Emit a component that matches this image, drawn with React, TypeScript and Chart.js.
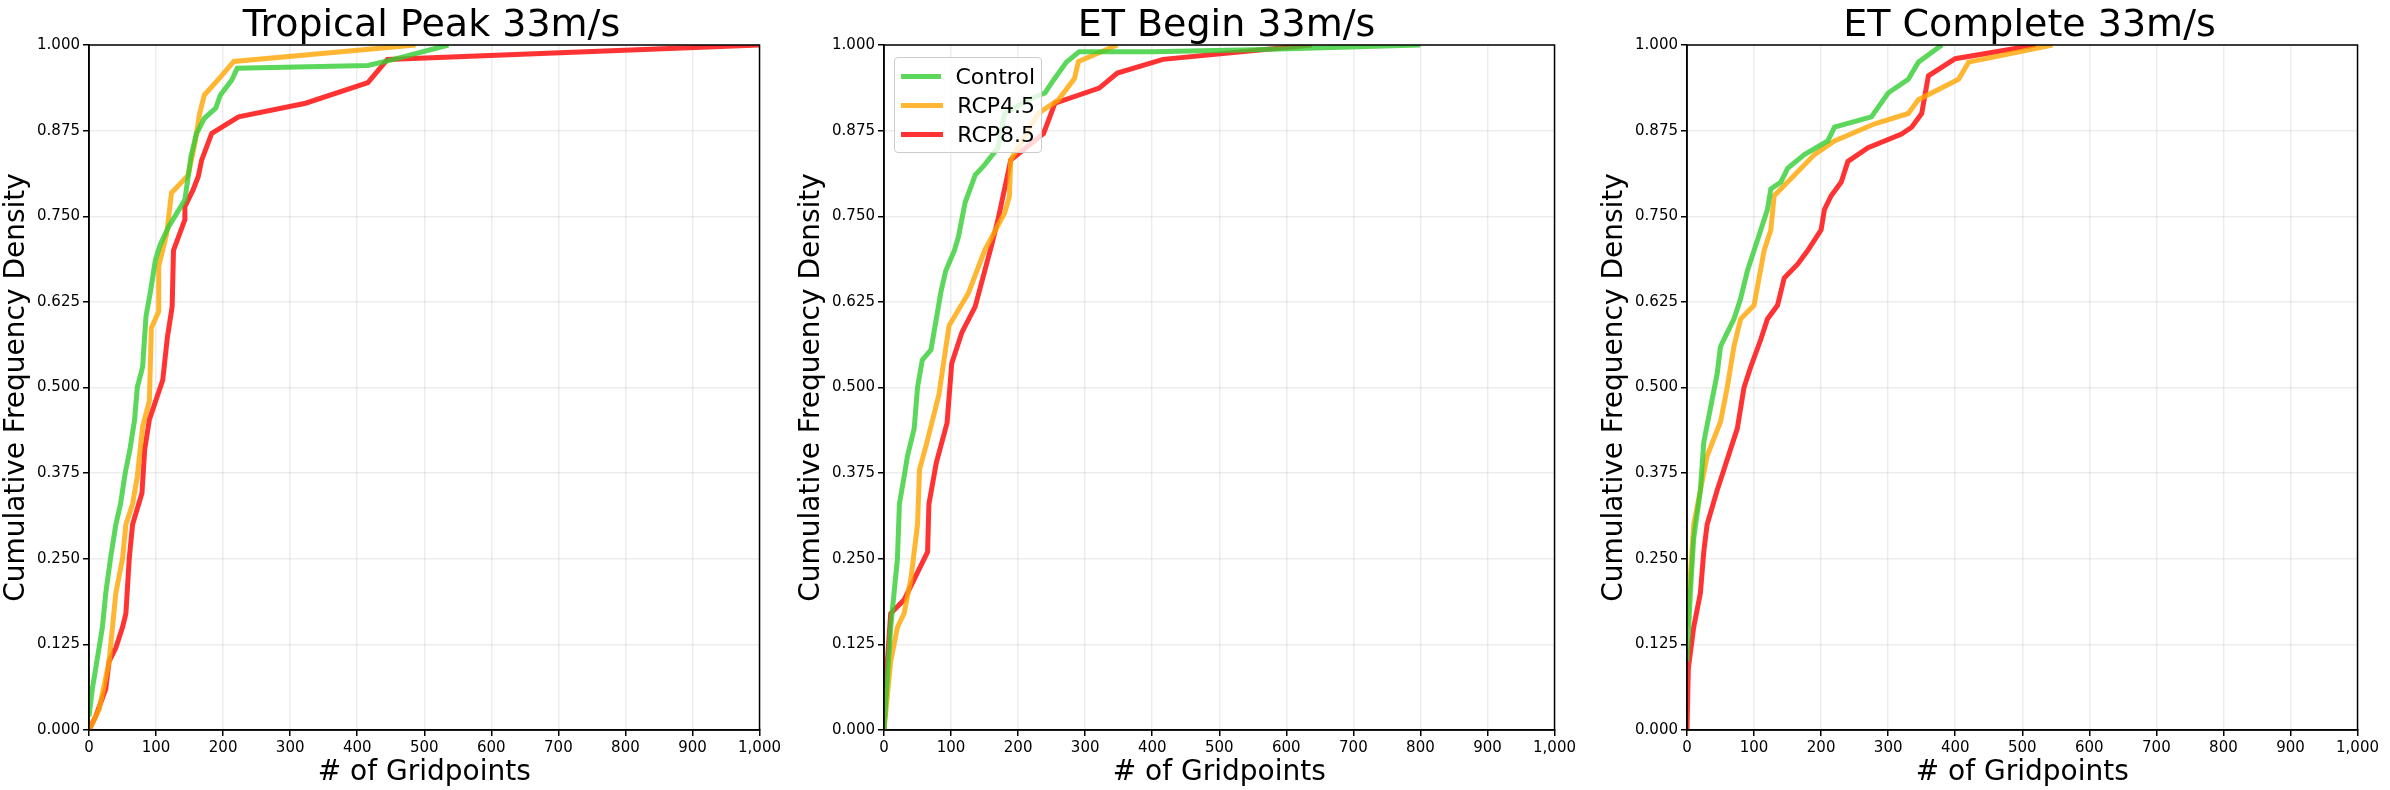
import React, { useEffect, useRef } from 'react';
import { Chart, registerables } from 'chart.js';
Chart.register(...registerables);

type Pt = { x: number; y: number };
const pts = (xs: number[], ys: number[]): Pt[] => xs.map((x, i) => ({ x, y: ys[i] }));

// Tropical Peak
const tpControlX = [0, 5, 15, 20, 25, 32, 40, 47, 54, 61, 68, 72, 80, 85, 92, 99, 106, 119, 143, 152, 160, 172, 189, 196, 213, 221, 416, 450, 536];
const tpControlY = [0.02, 0.06, 0.12, 0.15, 0.2, 0.25, 0.3, 0.33, 0.375, 0.409, 0.453, 0.5, 0.53, 0.604, 0.642, 0.686, 0.708, 0.735, 0.774, 0.837, 0.87, 0.893, 0.908, 0.927, 0.949, 0.966, 0.97, 0.978, 1.0];
const tpRcp45X = [0, 15, 30, 35, 40, 50, 55, 65, 72, 80, 90, 93, 104, 104, 116, 123, 148, 158, 165, 172, 194, 216, 487];
const tpRcp45Y = [0, 0.03, 0.1, 0.15, 0.2, 0.25, 0.3, 0.33, 0.37, 0.443, 0.48, 0.587, 0.611, 0.677, 0.725, 0.784, 0.81, 0.857, 0.9, 0.927, 0.951, 0.976, 1.0];
const tpRcp85X = [0, 10, 25, 30, 40, 50, 55, 60, 65, 79, 83, 90, 110, 117, 124, 126, 143, 143, 155, 163, 168, 183, 223, 323, 416, 445, 1000];
const tpRcp85Y = [0, 0.02, 0.06, 0.1, 0.12, 0.15, 0.17, 0.25, 0.3, 0.346, 0.409, 0.453, 0.511, 0.574, 0.618, 0.7, 0.745, 0.764, 0.788, 0.808, 0.832, 0.871, 0.895, 0.915, 0.945, 0.979, 1.0];

// ET Begin
const ebControlX = [0, 10, 20, 23, 30, 35, 40, 45, 50, 57, 70, 78, 85, 92, 105, 111, 121, 136, 150, 170, 180, 215, 240, 253, 272, 291, 400, 550, 800];
const ebControlY = [0, 0.15, 0.25, 0.33, 0.37, 0.4, 0.42, 0.44, 0.5, 0.54, 0.555, 0.6, 0.64, 0.67, 0.7, 0.72, 0.77, 0.81, 0.825, 0.85, 0.9, 0.92, 0.93, 0.949, 0.975, 0.99, 0.99, 0.993, 1.0];
const ebRcp45X = [0, 10, 20, 30, 40, 50, 53, 64, 82, 97, 126, 150, 180, 187, 189, 230, 260, 284, 290, 348];
const ebRcp45Y = [0, 0.1, 0.15, 0.17, 0.22, 0.3, 0.38, 0.42, 0.49, 0.59, 0.638, 0.7, 0.755, 0.779, 0.832, 0.9, 0.92, 0.951, 0.976, 1.0];
const ebRcp85X = [0, 5, 10, 30, 40, 55, 65, 67, 78, 94, 101, 116, 136, 160, 170, 189, 238, 255, 321, 348, 416, 638];
const ebRcp85Y = [0, 0.1, 0.17, 0.19, 0.21, 0.24, 0.26, 0.33, 0.39, 0.448, 0.535, 0.58, 0.618, 0.706, 0.745, 0.832, 0.871, 0.915, 0.937, 0.959, 0.979, 1.0];

// ET Complete
const ecControlX = [0, 5, 10, 20, 25, 35, 45, 50, 60, 70, 80, 90, 100, 110, 120, 125, 140, 150, 175, 210, 220, 275, 300, 330, 345, 380];
const ecControlY = [0.1, 0.2, 0.28, 0.35, 0.42, 0.47, 0.52, 0.56, 0.58, 0.6, 0.63, 0.67, 0.7, 0.73, 0.76, 0.79, 0.8, 0.82, 0.84, 0.86, 0.88, 0.895, 0.93, 0.95, 0.975, 1.0];
const ecRcp45X = [0, 10, 30, 50, 60, 70, 80, 100, 115, 125, 130, 160, 190, 220, 280, 330, 345, 405, 420, 545];
const ecRcp45Y = [0.15, 0.3, 0.4, 0.45, 0.5, 0.56, 0.6, 0.62, 0.7, 0.73, 0.78, 0.81, 0.84, 0.86, 0.885, 0.9, 0.92, 0.95, 0.975, 1.0];
const ecRcp85X = [0, 2, 10, 20, 25, 30, 45, 55, 65, 75, 85, 95, 110, 120, 135, 145, 165, 180, 200, 205, 215, 230, 240, 270, 320, 335, 350, 360, 400, 520];
const ecRcp85Y = [0, 0.09, 0.15, 0.2, 0.26, 0.3, 0.35, 0.38, 0.41, 0.44, 0.5, 0.53, 0.57, 0.6, 0.62, 0.66, 0.68, 0.7, 0.73, 0.76, 0.78, 0.8, 0.83, 0.85, 0.87, 0.88, 0.9, 0.955, 0.98, 1.0];

const seriesNames = ['Control', 'RCP4.5', 'RCP8.5'];
const colors = ['rgba(50,205,50,0.8)', 'rgba(255,165,0,0.8)', 'rgba(255,0,0,0.8)'];
const xTicks = [0, 100, 200, 300, 400, 500, 600, 700, 800, 900, 1000];

const panels = [
  { title: 'Tropical Peak 33m/s', data: [pts(tpControlX, tpControlY), pts(tpRcp45X, tpRcp45Y), pts(tpRcp85X, tpRcp85Y)] },
  { title: 'ET Begin 33m/s', data: [pts(ebControlX, ebControlY), pts(ebRcp45X, ebRcp45Y), pts(ebRcp85X, ebRcp85Y)] },
  { title: 'ET Complete 33m/s', data: [pts(ecControlX, ecControlY), pts(ecRcp45X, ecRcp45Y), pts(ecRcp85X, ecRcp85Y)] },
];

const FONT = 'DejaVu Sans';
const LEFTS = [0, 795, 1598];
const W = 784;

const Panel: React.FC<{ idx: number }> = ({ idx }) => {
  const ref = useRef<HTMLCanvasElement>(null);
  useEffect(() => {
    if (!ref.current) return;
    const p = panels[idx];
    const chart = new Chart(ref.current, {
      type: 'scatter',
      data: {
        datasets: p.data.map((d, i) => ({
          label: seriesNames[i],
          data: d,
          showLine: true,
          borderColor: colors[i],
          backgroundColor: colors[i],
          borderWidth: 5,
          pointRadius: 0,
          tension: 0,
        })),
      },
      options: {
        responsive: false,
        animation: false,
        layout: { padding: { top: 45, right: 10, left: 0, bottom: 0 } },
        plugins: { legend: { display: false }, tooltip: { enabled: false } },
        scales: {
          x: {
            type: 'linear', min: 0, max: 1000,
            afterBuildTicks: (s: any) => { s.ticks = xTicks.map((v) => ({ value: v })); },
            afterFit: (s: any) => { s.height = 60; },
            border: { color: '#000', width: 1.5 },
            grid: { color: 'rgba(0,0,0,0.07)', lineWidth: 1.5, tickColor: '#000', tickLength: 6 },
            ticks: { color: '#000', font: { family: FONT, size: 15 }, padding: 3, maxRotation: 0 },
            title: { display: true, text: '# of Gridpoints', color: '#000', font: { family: FONT, size: 28 }, padding: 0 },
          },
          y: {
            type: 'linear', min: 0, max: 1,
            ticks: { stepSize: 0.125, color: '#000', font: { family: FONT, size: 15 }, padding: 3, callback: (v: any) => Number(v).toFixed(3) },
            afterFit: (s: any) => { s.width = 89; },
            border: { color: '#000', width: 1.5 },
            grid: { color: 'rgba(0,0,0,0.07)', lineWidth: 1.5, tickColor: '#000', tickLength: 6 },
            title: { display: true, text: 'Cumulative Frequency Density', color: '#000', font: { family: FONT, size: 28 }, padding: 0 },
          },
        },
      },
      plugins: [{
        id: 'frame',
        afterDraw: (c: any) => {
          const { ctx, chartArea: a } = c;
          ctx.save();
          ctx.strokeStyle = '#000';
          ctx.lineWidth = 1.5;
          ctx.strokeRect(a.left, a.top, a.right - a.left, a.bottom - a.top);
          ctx.restore();
        },
      }],
    });
    return () => chart.destroy();
  }, [idx]);
  return (
    <div style={{ position: 'absolute', left: LEFTS[idx], top: 0, width: W, height: 790 }}>
      <canvas ref={ref} width={W} height={790} style={{ width: W, height: 790 }} />
      <div style={{ position: 'absolute', left: 89, width: 685, top: 2, textAlign: 'center', fontFamily: FONT, fontSize: 38, lineHeight: '42px', color: '#000' }}>
        {panels[idx].title}
      </div>
      {idx === 1 && (
        <div style={{ position: 'absolute', left: 99, top: 57, width: 148, height: 96, boxSizing: 'border-box', border: '1px solid #ccc', borderRadius: 4, background: 'rgba(255,255,255,0.8)', padding: '4px 6px', fontFamily: FONT, fontSize: 22 }}>
          {seriesNames.map((n, i) => (
            <div key={n} style={{ display: 'flex', alignItems: 'center', height: 29 }}>
              <span style={{ display: 'inline-block', width: 46, height: 5, background: colors[i], marginRight: 14 }} />
              {n}
            </div>
          ))}
        </div>
      )}
    </div>
  );
};

export default function App() {
  useEffect(() => { document.body.style.margin = '0'; }, []);
  return (
    <div style={{ position: 'relative', width: 2390, height: 790, background: '#fff' }}>
      {[0, 1, 2].map((i) => <Panel key={i} idx={i} />)}
    </div>
  );
}
